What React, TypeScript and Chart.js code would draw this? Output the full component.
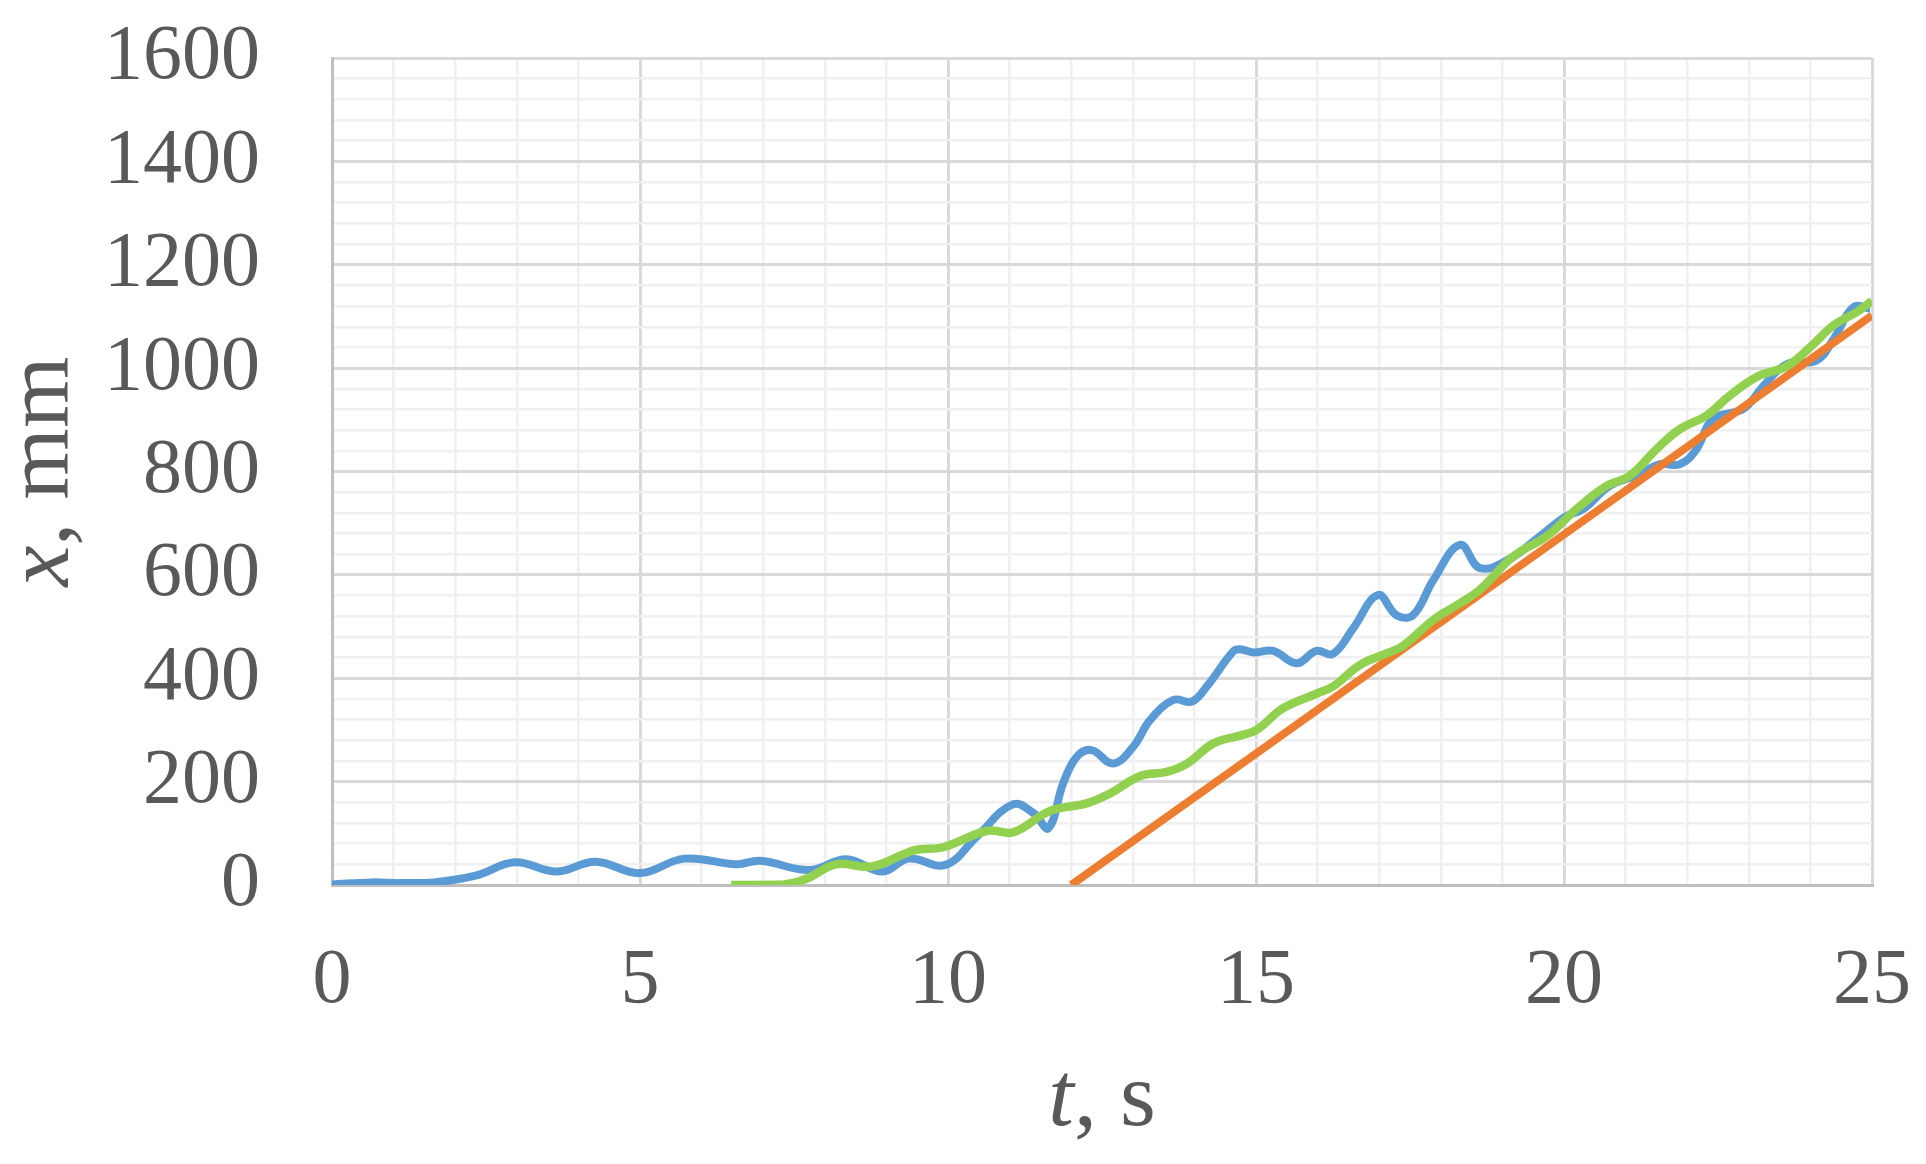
import { useEffect, useRef } from "react"
import { Chart, registerables } from "chart.js"

Chart.register(...registerables)

// time (s) and displacement (mm)
const blueT = [
  0, 0.64, 1.1, 1.65, 2.33, 2.97, 3.64, 4.28, 5.0, 5.72, 6.57, 6.95, 7.75, 8.35, 8.94, 9.36, 9.96,
  10.47, 11.05, 11.39, 11.63, 11.87, 12.09, 12.33, 12.68, 13.01, 13.28, 13.66, 13.96, 14.2, 14.63,
  14.74, 14.96, 15.28, 15.66, 15.98, 16.25, 16.58, 16.98, 17.28, 17.55, 17.88, 18.31, 18.64, 19.12,
  19.61, 20.04, 20.31, 20.74, 21.17, 21.55, 21.88, 22.15, 22.42, 22.91, 23.24, 23.62, 24.1, 24.38,
  24.7, 24.97,
]
const blueX = [
  1, 5, 4, 5, 18, 44, 26, 45, 23, 51, 40, 47, 29, 50, 26, 51, 39,
  94, 156, 139, 110, 197, 248, 261, 235, 268, 319, 358, 355, 384, 452,
  456, 450, 453, 429, 453, 447, 497, 561, 522, 522, 590, 658, 613, 631,
  675, 714, 727, 772, 792, 814, 814, 843, 902, 921, 966, 1008, 1015, 1057,
  1118, 1115,
]

const greenT = [
  6.48, 7.33, 7.7, 8.18, 8.77, 9.45, 9.92, 10.64, 11.06, 11.65, 12.25, 12.63, 13.12, 13.55, 13.88,
  14.31, 14.74, 15.01, 15.44, 15.98, 16.25, 16.69, 17.12, 17.39, 17.88, 18.31, 18.64, 19.18, 19.72,
  20.2, 20.69, 21.07, 21.5, 21.88, 22.31, 22.69, 23.13, 23.62, 24.0, 24.38, 24.76, 25.0,
]
const greenX = [
  0, 1, 12, 40, 36, 67, 73, 105, 102, 143, 158, 177, 211, 219, 235,
  274, 289, 300, 342, 370, 384, 426, 448, 463, 513, 545, 572, 636, 675,
  727, 772, 792, 843, 882, 908, 947, 983, 1004, 1041, 1083, 1109, 1130,
]

const orangeT = [12, 25]
const orangeX = [0, 1102]

const xMax = 25
const xMajor = 5
const xMinor = 1
const yMax = 1600
const yMajor = 200
const yMinor = 40

const textColor = "#595959"
const serif = "'Liberation Serif', 'Times New Roman', serif"

const toPoints = (t: number[], v: number[]) => t.map((x, i) => ({ x, y: v[i] }))

function drawMixed(ctx: CanvasRenderingContext2D, parts: [string, boolean][], cx: number, y: number, size: number) {
  const fontOf = (italic: boolean) => `${italic ? "italic " : ""}${size}px ${serif}`
  let total = 0
  for (const [s, it] of parts) {
    ctx.font = fontOf(it)
    total += ctx.measureText(s).width
  }
  let x = cx - total / 2
  ctx.textAlign = "left"
  ctx.textBaseline = "alphabetic"
  for (const [s, it] of parts) {
    ctx.font = fontOf(it)
    ctx.fillText(s, x, y)
    x += ctx.measureText(s).width
  }
}

// axis titles with the italic variable letter
const axisTitles = {
  id: "axisTitles",
  afterDraw(chart: Chart) {
    const { ctx, chartArea } = chart
    ctx.save()
    ctx.fillStyle = textColor
    drawMixed(ctx, [["t", true], [", s", false]], (chartArea.left + chartArea.right) / 2, chartArea.bottom + 240, 92)
    ctx.translate(chartArea.left - 264, (chartArea.top + chartArea.bottom) / 2)
    ctx.rotate(-Math.PI / 2)
    drawMixed(ctx, [["x", true], [", mm", false]], 0, 0, 92)
    ctx.restore()
  },
}

export default function App() {
  const canvasRef = useRef<HTMLCanvasElement>(null)

  useEffect(() => {
    if (!canvasRef.current) return
    const chart = new Chart(canvasRef.current, {
      type: "line",
      data: {
        datasets: [
          {
            data: toPoints(greenT, greenX),
            borderColor: "#92d050",
            borderWidth: 8.5,
            tension: 0.4,
            pointRadius: 0,
          },
          {
            data: toPoints(orangeT, orangeX),
            borderColor: "#ed7d31",
            borderWidth: 8,
            tension: 0,
            pointRadius: 0,
          },
          {
            data: toPoints(blueT, blueX),
            borderColor: "#5b9bd5",
            borderWidth: 8,
            tension: 0.4,
            pointRadius: 0,
          },
        ],
      },
      options: {
        responsive: true,
        maintainAspectRatio: false,
        animation: false,
        devicePixelRatio: 1,
        layout: { padding: { top: 58, right: 54, left: 0, bottom: 0 } },
        plugins: { legend: { display: false }, tooltip: { enabled: false } },
        scales: {
          x: {
            type: "linear",
            min: 0,
            max: xMax,
            afterFit: (scale) => {
              scale.height = 279
              scale.paddingLeft = 0
              scale.paddingRight = 0
            },
            ticks: {
              stepSize: xMinor,
              autoSkip: false,
              maxRotation: 0,
              padding: 50,
              color: textColor,
              font: { family: serif, size: 78 },
              callback: (v) => (Number(v) % xMajor === 0 ? String(v) : ""),
            },
            grid: {
              drawTicks: false,
              color: (c) => (c.tick && c.tick.value % xMajor === 0 ? "#d9d9d9" : "#f0f0f0"),
              lineWidth: (c) => (c.tick && c.tick.value % xMajor === 0 ? 3 : 2.5),
            },
            border: { color: "#bfbfbf", width: 3 },
          },
          y: {
            min: 0,
            max: yMax,
            afterFit: (scale) => {
              scale.width = 332
              scale.paddingTop = 0
              scale.paddingBottom = 0
            },
            ticks: {
              stepSize: yMinor,
              autoSkip: false,
              padding: 72,
              color: textColor,
              font: { family: serif, size: 78 },
              callback: (v) => (Number(v) % yMajor === 0 ? String(v) : ""),
            },
            grid: {
              drawTicks: false,
              color: (c) => (c.tick && c.tick.value % yMajor === 0 ? "#d9d9d9" : "#f0f0f0"),
              lineWidth: (c) => (c.tick && c.tick.value % yMajor === 0 ? 3 : 2.5),
            },
            border: { color: "#bfbfbf", width: 3 },
          },
        },
      },
      plugins: [axisTitles],
    })
    return () => chart.destroy()
  }, [])

  return (
    <div style={{ position: "fixed", left: 0, top: 0, width: 1926, height: 1164, background: "#fff" }}>
      <canvas ref={canvasRef}></canvas>
    </div>
  )
}
